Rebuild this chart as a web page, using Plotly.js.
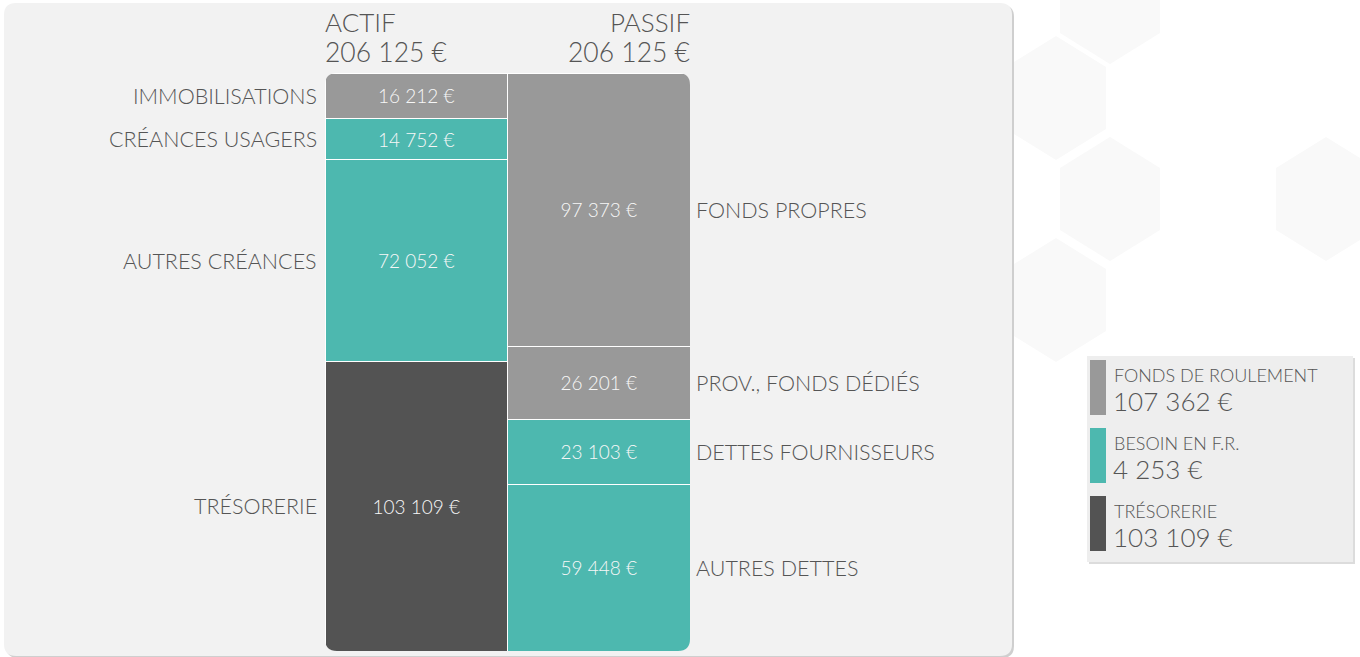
<!DOCTYPE html>
<html><head><meta charset="utf-8">
<script src="https://cdn.plot.ly/plotly-3.0.1.min.js"></script>
<style>html,body{margin:0;padding:0;background:#fff;}#chart{width:1360px;height:657px;}</style>
</head><body><div id="chart"></div>
<script>
// ---- data ----
const actifTitle = 'ACTIF';
const passifTitle = 'PASSIF';
const actifLabels = ['IMMOBILISATIONS', 'CRÉANCES USAGERS', 'AUTRES CRÉANCES', 'TRÉSORERIE'];
const actifValues = [16212, 14752, 72052, 103109];
const passifLabels = ['FONDS PROPRES', 'PROV., FONDS DÉDIÉS', 'DETTES FOURNISSEURS', 'AUTRES DETTES'];
const passifValues = [97373, 26201, 23103, 59448];
const legendLabels = ['FONDS DE ROULEMENT', 'BESOIN EN F.R.', 'TRÉSORERIE'];
const legendValues = [107362, 4253, 103109];

// ---- styles ----
const GREY = '#999999', TEAL = '#4db8af', DARK = '#535353';
const actifColors = [GREY, TEAL, TEAL, DARK];
const passifColors = [GREY, GREY, TEAL, TEAL];
const legendColors = [GREY, TEAL, DARK];
const TXT = '#555555';
const FONT = 'Lato, "Open Sans", "Noto Sans", sans-serif';
const W = 1360, H = 657;

function fmt(n) { return String(n).replace(/\B(?=(\d{3})+(?!\d))/g, ' ') + ' €'; }
const sum = a => a.reduce((s, v) => s + v, 0);
const totalA = sum(actifValues), totalP = sum(passifValues);
const total = Math.max(totalA, totalP);

// plot-area placement (pixels)
const bx0 = 325, bx1 = 690, by0 = 73, by1 = 651;
const px = x => x / W, py = y => 1 - y / H;

const traces = [];
function addSide(labels, values, colors, xpos) {
  labels.forEach((l, i) => {
    traces.push({
      type: 'bar', x: [xpos], y: [values[i]], width: 1,
      marker: { color: colors[i], line: { color: '#ffffff', width: 1 } },
      texttemplate: '%{y:,.0f} €', textposition: 'inside', insidetextanchor: 'middle',
      textangle: 0,
      textfont: { family: FONT, size: 19, color: '#f7f7f7', weight: 300 },
      hoverinfo: 'skip', showlegend: false, cliponaxis: false
    });
  });
}
addSide(actifLabels, actifValues, actifColors, 0);
addSide(passifLabels, passifValues, passifColors, 1);

const annotations = [];
function sideLabels(labels, values, xval, anchor, shift) {
  let cum = 0;
  labels.forEach((l, i) => {
    const mid = cum + values[i] / 2; cum += values[i];
    annotations.push({ x: xval, y: mid, xref: 'x', yref: 'y', text: l, showarrow: false,
      xanchor: anchor, yanchor: 'middle', xshift: shift,
      font: { family: FONT, size: 21.5, color: TXT, weight: 300 } });
  });
}
sideLabels(actifLabels, actifValues, -0.5, 'right', -6);
sideLabels(passifLabels, passifValues, 1.5, 'left', 4);

// headers
[[actifTitle, totalA, -0.5, 'left'], [passifTitle, totalP, 1.5, 'right']].forEach(h => {
  annotations.push({ x: h[2], y: 0, xref: 'x', yref: 'y', text: h[0], showarrow: false,
    xanchor: h[3], yanchor: 'middle', yshift: 51, xshift: h[3] === 'left' ? -2 : 2,
    font: { family: FONT, size: 26, color: TXT, weight: 300 } });
  annotations.push({ x: h[2], y: 0, xref: 'x', yref: 'y', text: fmt(h[1]), showarrow: false,
    xanchor: h[3], yanchor: 'middle', yshift: 21, xshift: h[3] === 'left' ? -2 : 2,
    font: { family: FONT, size: 26.5, color: TXT, weight: 300 } });
});

// legend box
const lgX0 = 1087, lgX1 = 1353, lgY0 = 356, lgY1 = 562;
const swTop = [360, 428, 496], swH = 55;
legendLabels.forEach((l, i) => {
  annotations.push({ x: px(1112), y: py(swTop[i] + 15), xref: 'paper', yref: 'paper', text: l,
    showarrow: false, xanchor: 'left', yanchor: 'middle',
    font: { family: FONT, size: 18, color: TXT, weight: 300 } });
  annotations.push({ x: px(1111), y: py(swTop[i] + 41), xref: 'paper', yref: 'paper', text: fmt(legendValues[i]),
    showarrow: false, xanchor: 'left', yanchor: 'middle',
    font: { family: FONT, size: 26, color: TXT, weight: 300 } });
});

// ---- decorations ----
const shapes = [];
// faint hexagon background (pixel centres)
const hexes = [[1110, 2], [1056, 98], [1110, 199], [1326, 199], [1056, 300]];
hexes.forEach(c => {
  const [cx, cy] = c, hw = 50, hh = 62, sh = 31;
  const pts = [[cx, cy - hh], [cx + hw, cy - sh], [cx + hw, cy + sh], [cx, cy + hh], [cx - hw, cy + sh], [cx - hw, cy - sh]];
  const d = 'M ' + pts.map(p => `${px(p[0])},${py(p[1])}`).join(' L ') + ' Z';
  shapes.push({ type: 'path', xref: 'paper', yref: 'paper', path: d, fillcolor: '#f9f9f9', line: { width: 0 }, layer: 'below' });
});
function rrectPx(x0, y0, x1, y1, r) {
  const rx = r / W, ry = r / H;
  const X0 = px(x0), X1 = px(x1), Y0 = py(y0), Y1 = py(y1);
  return `M ${X0 + rx},${Y0} L ${X1 - rx},${Y0} Q ${X1},${Y0} ${X1},${Y0 - ry} L ${X1},${Y1 + ry} Q ${X1},${Y1} ${X1 - rx},${Y1} L ${X0 + rx},${Y1} Q ${X0},${Y1} ${X0},${Y1 + ry} L ${X0},${Y0 - ry} Q ${X0},${Y0} ${X0 + rx},${Y0} Z`;
}
// panel shadow + panel
shapes.push({ type: 'path', xref: 'paper', yref: 'paper', path: rrectPx(6, 5, 1014, 658, 12), fillcolor: '#cfcfcf', line: { width: 0 }, layer: 'below' });
shapes.push({ type: 'path', xref: 'paper', yref: 'paper', path: rrectPx(4, 3, 1012, 656, 12), fillcolor: '#f2f2f2', line: { width: 0 }, layer: 'below' });
// legend box
shapes.push({ type: 'rect', xref: 'paper', yref: 'paper', x0: px(lgX0 + 2), x1: px(lgX1 + 2), y0: py(lgY0 + 2), y1: py(lgY1 + 2), fillcolor: '#dcdcdc', line: { width: 0 }, layer: 'below' });
shapes.push({ type: 'rect', xref: 'paper', yref: 'paper', x0: px(lgX0), x1: px(lgX1), y0: py(lgY0), y1: py(lgY1), fillcolor: '#eeeeee', line: { width: 0 }, layer: 'below' });
legendColors.forEach((c, i) => {
  shapes.push({ type: 'rect', xref: 'paper', yref: 'paper', x0: px(1090), x1: px(1106), y0: py(swTop[i]), y1: py(swTop[i] + swH), fillcolor: c, line: { width: 0 }, layer: 'above' });
});
// rounded outer corners of the two stacked columns (masks in data units)
const rad = 12;
const rx = rad * 2 / (bx1 - bx0), ry = rad * total / (by1 - by0);
[[-0.5, 0, 1, 1], [1.5, 0, -1, 1], [-0.5, total, 1, -1], [1.5, total, -1, -1]].forEach(k => {
  const [cx, cy, sx, sy] = k;
  const d = `M ${cx},${cy} L ${cx + sx * rx},${cy} Q ${cx},${cy} ${cx},${cy + sy * ry} Z`;
  shapes.push({ type: 'path', xref: 'x', yref: 'y', path: d, fillcolor: '#f2f2f2', line: { width: 0 }, layer: 'above' });
});

const layout = {
  width: W, height: H, margin: { l: 0, r: 0, t: 0, b: 0 },
  paper_bgcolor: '#ffffff', plot_bgcolor: 'rgba(0,0,0,0)',
  barmode: 'stack', bargap: 0, separators: ', ',
  xaxis: { domain: [px(bx0), px(bx1)], range: [-0.5, 1.5], visible: false, fixedrange: true },
  yaxis: { domain: [py(by1), py(by0)], range: [total, 0], visible: false, fixedrange: true },
  showlegend: false, annotations: annotations, shapes: shapes,
  font: { family: FONT, color: TXT }
};
Plotly.newPlot('chart', traces, layout, { displayModeBar: false, staticPlot: true });
</script></body></html>
